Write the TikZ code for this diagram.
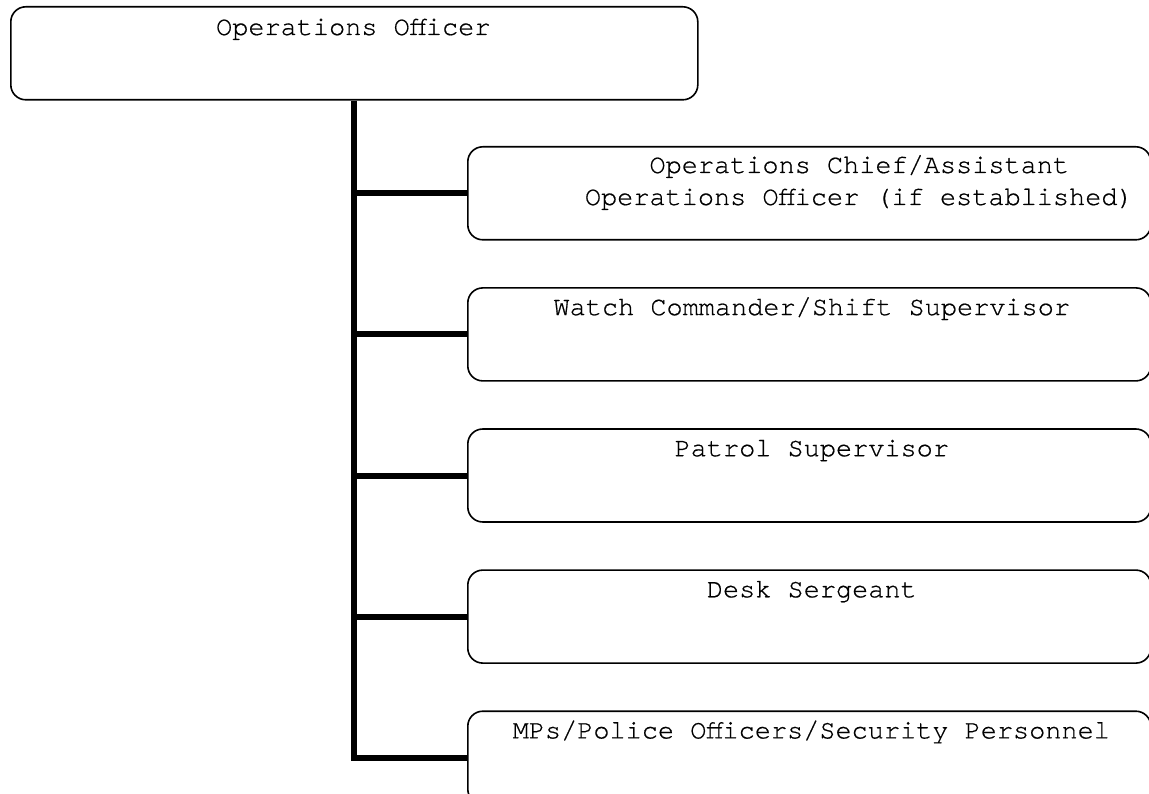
\documentclass[tikz,border=0pt]{standalone}
\usepackage{fontspec}
\setmainfont{texgyrecursor-regular.otf}[FakeBold=0.6]
\usetikzlibrary{positioning}

\begin{document}
\begin{tikzpicture}[x=1pt,y=-1pt,
box/.style={draw,line width=1.6pt,rounded corners=15pt,minimum width=683pt,minimum height=93pt,inner sep=0pt},
branch/.style={line width=6pt}]
\tikzstyle{title}=[anchor=base,inner sep=0pt,font=\fontsize{26.9}{32}\selectfont]
\useasboundingbox (0,0) rectangle (1149,794);
    \node (Ops) [box,minimum width=687pt,anchor=north west] at (10,6) {};
    \node (Chief) [box,anchor=north west] at (467,146) {};
    \node (Watch) [box,below=46.5pt of Chief] {};
    \node (Patrol) [box,below=46.5pt of Watch] {};
    \node (Desk) [box,below=46.5pt of Patrol] {};
    \node (Mps) [box,below=46.5pt of Desk] {};
   % Titles in the boxes
    \node (OpsText) [title] at ([xshift=-1pt,yshift=-29pt]Ops.north) {Operations Officer};
    \node (ChiefText) [title,align=center] at ([xshift=50pt,yshift=-59pt]Chief.north) {Operations Chief/Assistant\\Operations Officer (if established)};
    \node (WatchText) [title] at ([xshift=2.5pt,yshift=-28pt]Watch.north) {Watch Commander/Shift Supervisor};
    \node (PatrolText) [title] at ([xshift=2.5pt,yshift=-28pt]Patrol.north) {Patrol Supervisor};
    \node (DeskText) [title] at ([xshift=2.5pt,yshift=-28pt]Desk.north) {Desk Sergeant};
    \node (MpsText) [title] at ([xshift=2pt,yshift=-28pt]Mps.north) {MPs/Police Officers/Security Personnel};
   % Lines to each box
    \draw[branch] (Ops.south) -- (Ops.south |- Mps.west) -- (Mps.west);
    \foreach \b in {Chief,Watch,Patrol,Desk}
        \draw[branch] (Ops.south |- \b.west) -- (\b.west);
\end{tikzpicture}
\end{document}
